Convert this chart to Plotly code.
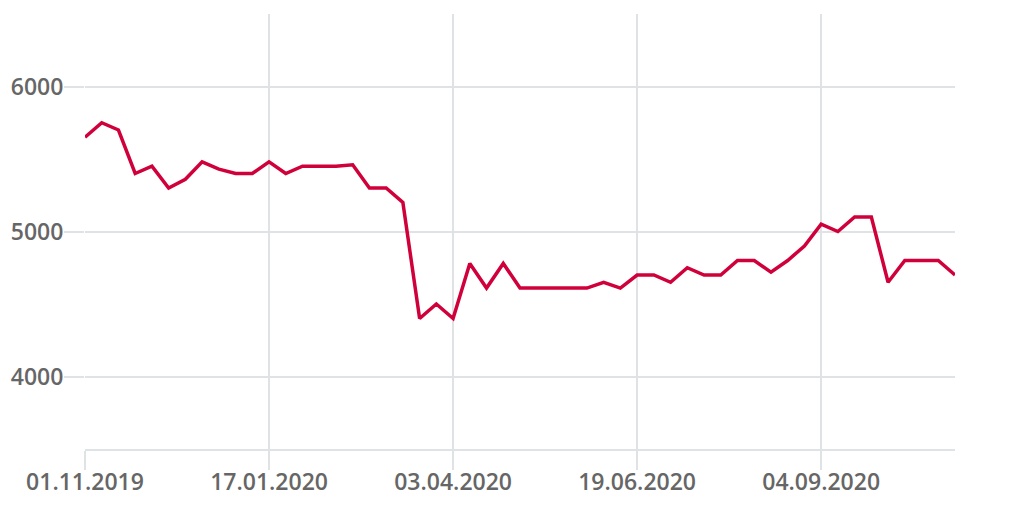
import plotly.graph_objects as go
import pandas as pd

dates = pd.date_range("2019-11-01", periods=53, freq="7D")
values = [5650, 5750, 5700, 5400, 5450, 5300, 5360, 5480, 5430, 5400,
          5400, 5480, 5400, 5450, 5450, 5450, 5460, 5300, 5300, 5200,
          4400, 4500, 4400, 4780, 4610, 4780, 4610, 4610, 4610, 4610,
          4610, 4650, 4610, 4700, 4700, 4650, 4750, 4700, 4700, 4800,
          4800, 4720, 4800, 4900, 5050, 5000, 5100, 5100, 4650, 4800,
          4800, 4800, 4700]
x_tick_labels = ["01.11.2019", "17.01.2020", "03.04.2020", "19.06.2020", "04.09.2020"]
y_ticks = [4000, 5000, 6000]

grid = "#dfe3e6"
fig = go.Figure()
fig.add_trace(go.Scatter(x=list(dates), y=values, mode="lines",
                         line=dict(color="#d0003a", width=3.5), hoverinfo="skip"))

tick_dates = [pd.to_datetime(s, format="%d.%m.%Y") for s in x_tick_labels]
fig.update_layout(
    width=1020, height=510,
    margin=dict(l=77, r=73, t=6, b=69, autoexpand=False),
    paper_bgcolor="white", plot_bgcolor="white",
    showlegend=False,
    font=dict(family="Open Sans", size=23, color="#666666", weight=600),
    xaxis=dict(
        range=[dates[0], dates[-1]],
        tickvals=tick_dates, ticktext=x_tick_labels,
        showgrid=True, gridcolor=grid, gridwidth=2,
        showline=True, linecolor=grid, linewidth=2,
        ticks="outside", ticklen=19, tickcolor=grid, tickwidth=2,
        zeroline=False,
        ticklabelstandoff=-8,
    ),
    yaxis=dict(
        range=[3500, 6500],
        tickvals=y_ticks, ticktext=[str(v) for v in y_ticks],
        showgrid=True, gridcolor=grid, gridwidth=2,
        showline=False, zeroline=False,
        ticks="outside", ticklen=20, tickcolor=grid, tickwidth=2,
        ticklabelstandoff=-4,
    ),
)
fig.write_html("out.html")
